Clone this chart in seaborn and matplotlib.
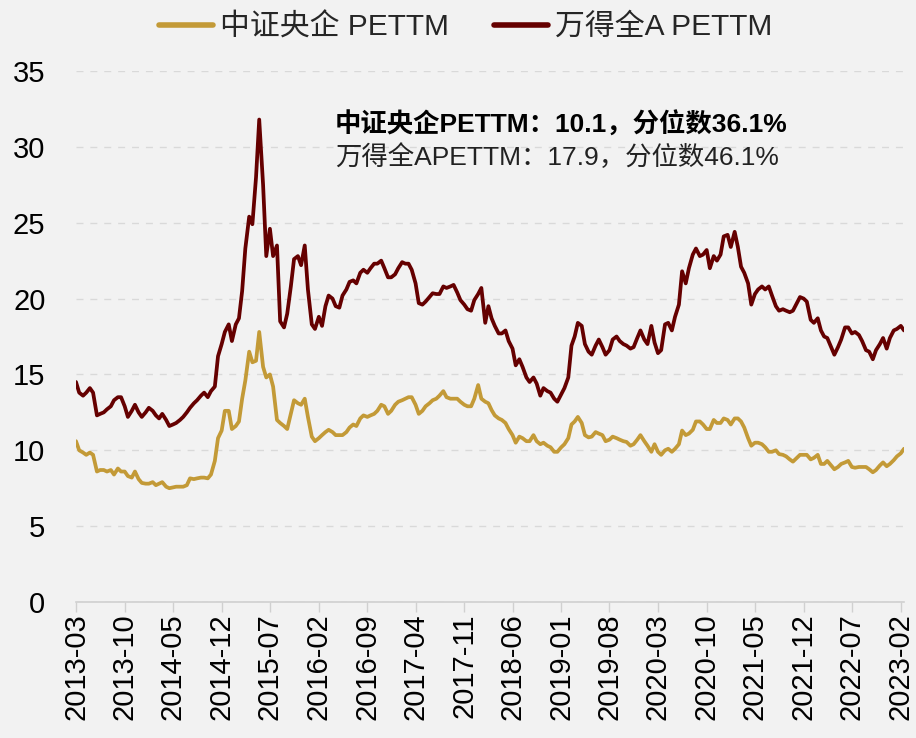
import pandas as pd
import seaborn as sns
import matplotlib.pyplot as plt
import matplotlib.dates as mdates

# 半月频数据（每月1日、15日）
dates = pd.date_range('2013-03-01', periods=240, freq='SMS')

csi_soe = [
    10.6, 10.0, 9.85, 9.7, 9.85, 9.7, 8.6, 8.7, 8.7, 8.6,
    8.7, 8.4, 8.8, 8.6, 8.6, 8.3, 8.2, 8.6, 8.1, 7.85,
    7.8, 7.8, 7.9, 7.7, 7.8, 7.9, 7.6, 7.5, 7.55, 7.6,
    7.6, 7.6, 7.7, 8.15, 8.1, 8.15, 8.2, 8.2, 8.15, 8.4,
    9.3, 10.8, 11.3, 12.6, 12.6, 11.4, 11.6, 11.9, 13.4, 14.6,
    16.5, 15.8, 15.9, 17.8, 15.5, 14.8, 15.0, 14.2, 12.0, 11.8,
    11.6, 11.4, 12.4, 13.3, 13.1, 13.0, 13.4, 12.2, 10.9, 10.6,
    10.8, 11.0, 11.2, 11.35, 11.2, 11.0, 11.0, 11.0, 11.2, 11.5,
    11.7, 11.6, 12.1, 12.3, 12.2, 12.3, 12.4, 12.6, 13.0, 12.9,
    12.4, 12.6, 13.0, 13.2, 13.3, 13.4, 13.5, 13.5, 13.0, 12.4,
    12.6, 12.9, 13.1, 13.3, 13.4, 13.6, 13.9, 13.5, 13.4, 13.4,
    13.4, 13.2, 13.0, 12.9, 12.9, 13.4, 14.3, 13.4, 13.2, 13.1,
    12.65, 12.3, 12.1, 12.0, 11.8, 11.4, 11.0, 10.5, 10.9, 10.8,
    10.6, 10.6, 11.0, 10.6, 10.4, 10.5, 10.3, 10.2, 9.9, 9.9,
    10.2, 10.4, 10.8, 11.7, 11.9, 12.2, 11.8, 11.0, 10.85, 10.9,
    11.2, 11.1, 11.0, 10.6, 10.7, 10.9, 10.8, 10.7, 10.6, 10.55,
    10.3, 10.4, 10.7, 11.0, 10.6, 10.3, 9.9, 10.4, 9.9, 9.7,
    10.0, 10.1, 9.9, 10.1, 10.4, 11.3, 11.0, 11.1, 11.35, 11.9,
    11.9, 11.7, 11.4, 11.4, 12.0, 11.8, 11.8, 12.1, 12.0, 11.7,
    12.1, 12.1, 11.9, 11.5, 10.8, 10.3, 10.5, 10.5, 10.4, 10.2,
    9.9, 9.9, 10.0, 9.75, 9.7, 9.6, 9.4, 9.25, 9.5, 9.7,
    9.7, 9.7, 9.4, 9.5, 9.7, 9.1, 9.1, 9.3, 9.0, 8.75,
    8.9, 9.1, 9.2, 9.3, 8.9, 8.85, 8.9, 8.9, 8.9, 8.75,
    8.55, 8.7, 9.0, 9.2, 8.95, 9.1, 9.35, 9.6, 9.8, 10.1,
]

wind_a = [
    14.5, 13.8, 13.6, 13.8, 14.1, 13.8, 12.3, 12.4, 12.5, 12.7,
    12.9, 13.3, 13.5, 13.5, 12.9, 12.2, 12.6, 13.0, 12.5, 12.2,
    12.5, 12.8, 12.6, 12.3, 12.1, 12.4, 12.0, 11.6, 11.7, 11.8,
    12.0, 12.2, 12.5, 12.8, 13.1, 13.3, 13.6, 13.8, 13.5, 13.9,
    14.2, 16.2, 17.0, 17.8, 18.3, 17.2, 18.3, 18.7, 20.5, 23.3,
    25.4, 24.9, 28.0, 31.8, 27.5, 22.8, 24.6, 22.8, 23.5, 18.5,
    18.1, 19.0, 20.8, 22.6, 22.8, 22.2, 23.5, 20.6, 18.3, 18.0,
    18.8, 18.2, 19.5, 20.2, 20.0, 19.5, 19.4, 20.2, 20.6, 21.1,
    21.2, 21.0, 21.7, 21.9, 21.7, 22.0, 22.3, 22.3, 22.5, 22.0,
    21.4, 21.4, 21.6, 22.0, 22.4, 22.3, 22.3, 21.9, 21.0, 19.7,
    19.6, 19.8, 20.1, 20.35, 20.3, 20.3, 20.8, 20.7, 20.8, 20.9,
    20.4, 19.9, 19.6, 19.3, 19.2, 19.9, 20.3, 20.7, 18.4, 19.5,
    18.7, 18.2, 17.7, 17.7, 17.9, 17.2, 16.7, 15.6, 16.0, 15.5,
    14.8, 14.5, 14.8, 14.4, 13.6, 14.1, 13.9, 13.8, 13.4, 13.2,
    13.7, 14.1, 14.8, 16.9, 17.5, 18.4, 18.2, 17.0, 16.5, 16.3,
    16.9, 17.3, 16.8, 16.3, 16.6, 17.3, 17.5, 17.2, 17.0, 16.9,
    16.7, 16.8, 17.4, 17.9, 17.3, 17.0, 18.2, 17.1, 16.4, 16.6,
    18.3, 18.4, 17.9, 18.8, 19.6, 21.8, 21.0, 22.0, 22.9, 23.3,
    22.8, 22.9, 23.2, 22.0, 22.8, 22.5, 22.9, 24.1, 24.2, 23.4,
    24.4, 23.4, 22.1, 21.7, 21.0, 19.6, 20.3, 20.6, 20.8, 20.6,
    20.8, 20.2, 19.5, 19.2, 19.3, 19.2, 19.1, 19.2, 19.7, 20.1,
    20.0, 19.8, 18.6, 18.4, 18.7, 17.9, 17.5, 17.4, 16.8, 16.3,
    16.8, 17.3, 18.1, 18.1, 17.7, 17.8, 17.6, 17.2, 16.6, 16.5,
    16.0, 16.6, 17.0, 17.4, 16.7, 17.4, 17.9, 18.0, 18.2, 17.9,
]

series_names = ['中证央企 PETTM', '万得全A PETTM']
tick_labels = ['2013-03', '2013-10', '2014-05', '2014-12', '2015-07', '2016-02',
               '2016-09', '2017-04', '2017-11', '2018-06', '2019-01', '2019-08',
               '2020-03', '2020-10', '2021-05', '2021-12', '2022-07', '2023-02']
note_soe = '中证央企PETTM：10.1，分位数36.1%'
note_all = '万得全APETTM：17.9，分位数46.1%'

bg = '#f2f2f2'
colors = ['#c39a37', '#650000']

sns.set_theme(style='white', rc={'figure.facecolor': bg, 'axes.facecolor': bg})
plt.rcParams['font.family'] = ['Liberation Sans', 'Noto Sans CJK SC', 'DejaVu Sans']

df = pd.DataFrame({
    '日期': list(dates) * 2,
    'PE': csi_soe + wind_a,
    '指数': [series_names[0]] * len(dates) + [series_names[1]] * len(dates),
})

fig = plt.figure(figsize=(9.16, 7.38), dpi=100)
ax = fig.add_axes([76 / 916, 1 - 602 / 738, 828 / 916, 531 / 738])

sns.lineplot(data=df, x='日期', y='PE', hue='指数', palette=colors,
             linewidth=2.7, ax=ax)

ax.set_ylim(0, 35)
ax.set_yticks(range(0, 36, 5))
ax.set_xlim(dates[0], dates[-1])
ax.set_xticks(pd.to_datetime(tick_labels))
ax.xaxis.set_major_formatter(mdates.DateFormatter('%Y-%m'))
ax.set_xlabel('')
ax.set_ylabel('')

ax.grid(axis='y', color='#d9d9d9', linestyle=(0, (5, 5)), linewidth=1)
ax.set_axisbelow(True)
for s in ['left', 'right', 'top']:
    ax.spines[s].set_visible(False)
ax.spines['bottom'].set_color('#d0d0d0')
ax.spines['bottom'].set_linewidth(1.2)

ax.tick_params(axis='x', rotation=90, labelsize=21, length=7, width=1,
               color='#d0d0d0', direction='out', pad=1, bottom=True)
ax.tick_params(axis='y', labelsize=21, length=0, pad=22)
for lbl in ax.get_xticklabels():
    lbl.set_color('#000000')
for lbl in ax.get_yticklabels():
    lbl.set_color('#000000')

# 图例放在顶部
handles, labels = ax.get_legend_handles_labels()
ax.get_legend().remove()
leg = fig.legend(handles, labels, loc='center', bbox_to_anchor=(466 / 916, 1 - 27 / 738),
                 ncol=2, frameon=False, fontsize=21.5, handlelength=1.8,
                 handletextpad=0.25, columnspacing=1.5)
for line in leg.get_lines():
    line.set_linewidth(4)

ax.text(0.313, 0.898, note_soe, transform=ax.transAxes, fontsize=19,
        fontweight='bold', va='center', ha='left', color='#000000')
ax.text(0.313, 0.838, note_all, transform=ax.transAxes, fontsize=19,
        va='center', ha='left', color='#222222')

fig.savefig('out.png', dpi=100, facecolor=bg)
